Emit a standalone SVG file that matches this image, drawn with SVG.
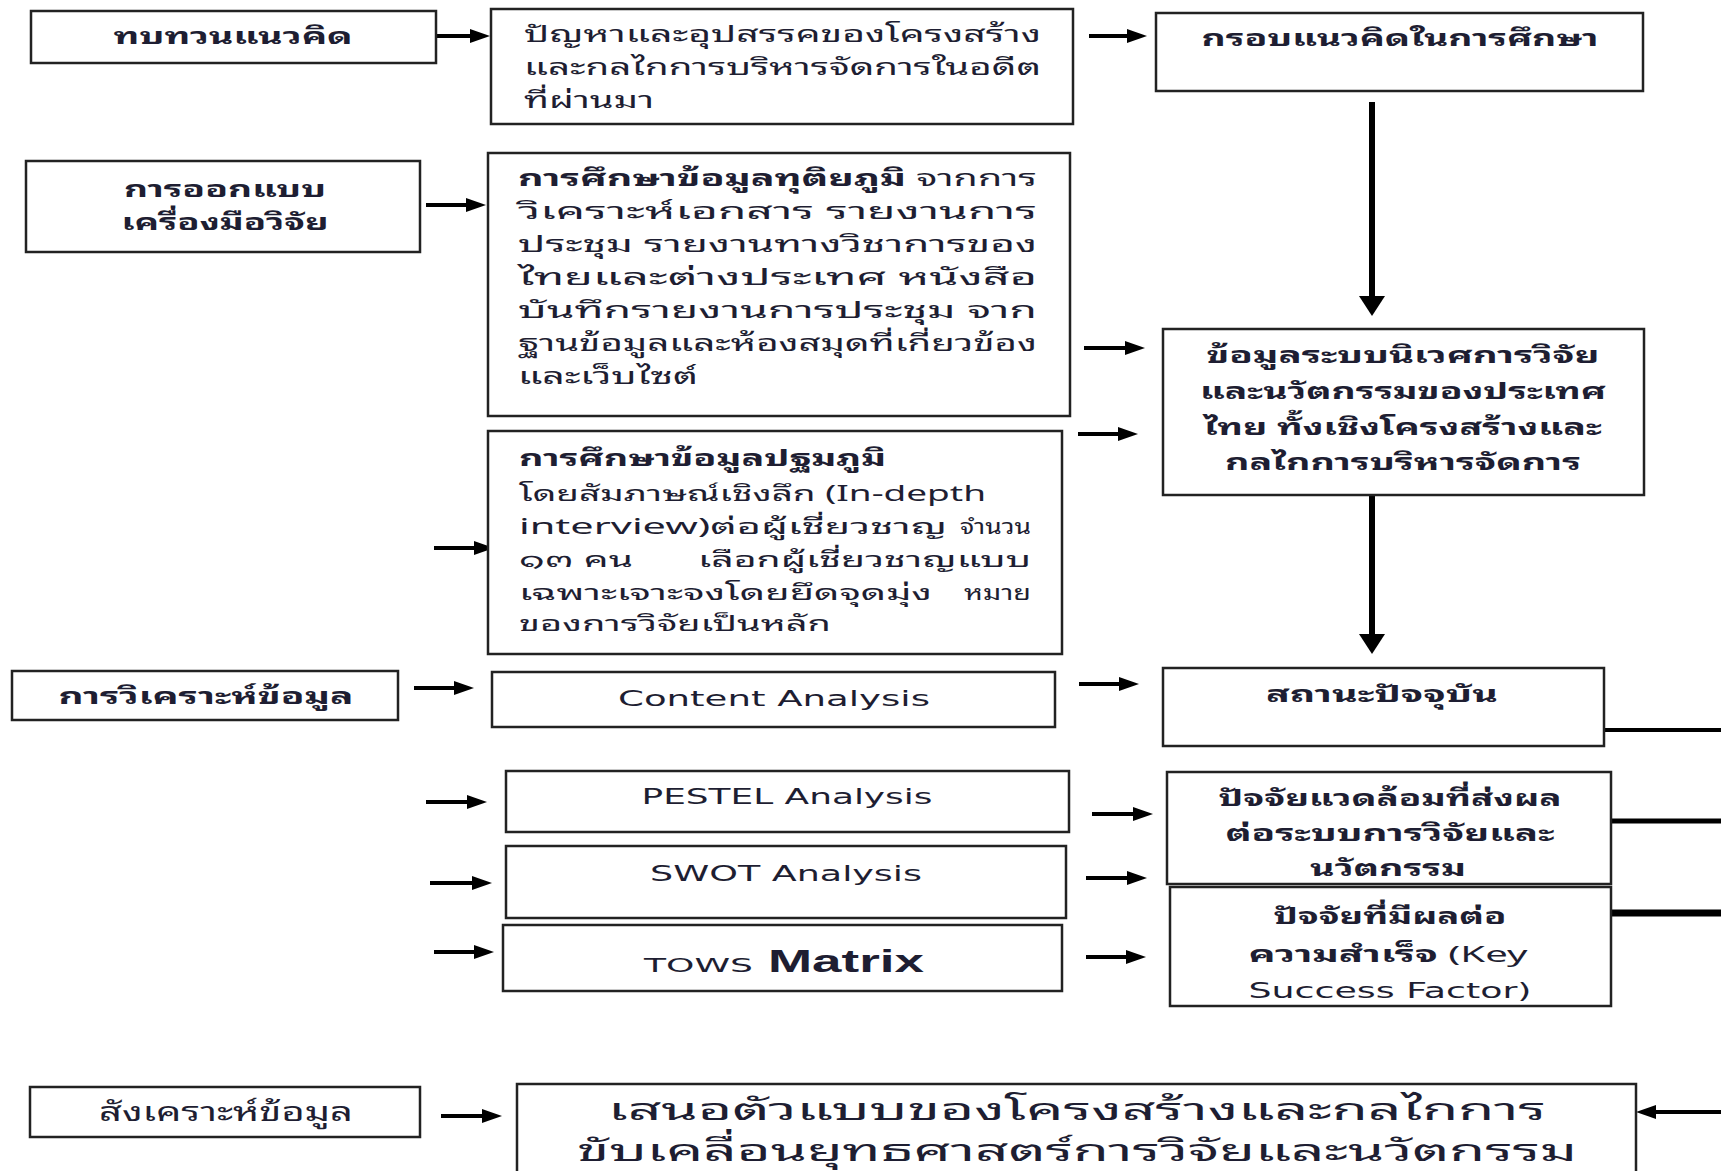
<svg xmlns="http://www.w3.org/2000/svg" width="1721" height="1171" viewBox="0 0 1721 1171">
<style>
  .bx{fill:#fff;stroke:#222;stroke-width:2.5}
  .th{font-family:Tahoma,"Noto Sans Thai Looped","Loma","Garuda","Noto Sans Thai","Noto Sans Thai UI","Noto Sans","DejaVu Sans",sans-serif;font-size:22px;fill:#1e1e32}
  .sm{font-size:21px}
  .en{font-family:"DejaVu Sans","Liberation Sans",sans-serif;font-size:22px;fill:#1e1e32}
  .b{font-weight:bold}
  .c{text-anchor:middle}
  .h{stroke:#000;stroke-width:4;fill:none;marker-end:url(#ah)}
  .v{stroke:#000;stroke-width:6;fill:none;marker-end:url(#av)}
  .ln{stroke:#000;fill:none}
</style>
<defs>
  <marker id="ah" markerUnits="userSpaceOnUse" markerWidth="20" markerHeight="14" refX="6" refY="7" orient="auto">
    <path d="M0,0 L20,7 L0,14 z" fill="#000"/>
  </marker>
  <marker id="av" markerUnits="userSpaceOnUse" markerWidth="20" markerHeight="26" refX="4" refY="13" orient="auto">
    <path d="M0,0 L20,13 L0,26 z" fill="#000"/>
  </marker>
</defs>
<rect width="1721" height="1171" fill="#fff"/>

<g id="connectors">
  <line class="h" x1="436" y1="36" x2="476" y2="36"/>
  <line class="h" x1="1089" y1="36" x2="1133" y2="36"/>
  <line class="v" x1="1372" y1="102" x2="1372" y2="300"/>
  <line class="h" x1="426" y1="205" x2="472" y2="205"/>
  <line class="h" x1="1084" y1="348" x2="1131" y2="348"/>
  <line class="h" x1="1078" y1="434" x2="1124" y2="434"/>
  <line class="h" x1="434" y1="548" x2="480" y2="548"/>
  <line class="v" x1="1372" y1="483" x2="1372" y2="638"/>
  <line class="h" x1="414" y1="688" x2="460" y2="688"/>
  <line class="h" x1="1079" y1="684" x2="1125" y2="684"/>
  <line class="h" x1="426" y1="802" x2="473" y2="802"/>
  <line class="h" x1="1092" y1="814" x2="1139" y2="814"/>
  <line class="h" x1="430" y1="883" x2="478" y2="883"/>
  <line class="h" x1="1086" y1="878" x2="1133" y2="878"/>
  <line class="h" x1="434" y1="952" x2="480" y2="952"/>
  <line class="h" x1="1086" y1="957" x2="1132" y2="957"/>
  <line class="h" x1="441" y1="1116" x2="488" y2="1116"/>
  <line class="h" x1="1721" y1="1112" x2="1650" y2="1112"/>
  <line class="ln" x1="1604" y1="730" x2="1721" y2="730" stroke-width="4"/>
  <line class="ln" x1="1611" y1="821" x2="1721" y2="821" stroke-width="5"/>
  <line class="ln" x1="1611" y1="913" x2="1721" y2="913" stroke-width="7"/>
</g>

<g id="nA">
  <rect class="bx" x="31" y="11" width="405" height="52"/>
  <text class="th b c" x="233" y="44" textLength="239" lengthAdjust="spacingAndGlyphs">ทบทวนแนวคิด</text>
</g>
<g id="nB">
  <rect class="bx" x="491" y="9" width="582" height="115"/>
  <text class="th" x="524" y="42" textLength="517" lengthAdjust="spacingAndGlyphs">ปัญหาและอุปสรรคของโครงสร้าง</text>
  <text class="th" x="524" y="75" textLength="517" lengthAdjust="spacingAndGlyphs">และกลไกการบริหารจัดการในอดีต</text>
  <text class="th" x="524" y="108" textLength="130" lengthAdjust="spacingAndGlyphs">ที่ผ่านมา</text>
</g>
<g id="nC">
  <rect class="bx" x="1156" y="13" width="487" height="78"/>
  <text class="th b c" x="1400" y="46" textLength="397" lengthAdjust="spacingAndGlyphs">กรอบแนวคิดในการศึกษา</text>
</g>
<g id="nD">
  <rect class="bx" x="26" y="161" width="394" height="91"/>
  <text class="th b c" x="225" y="197" textLength="202" lengthAdjust="spacingAndGlyphs">การออกแบบ</text>
  <text class="th b c" x="225" y="230" textLength="207" lengthAdjust="spacingAndGlyphs">เครื่องมือวิจัย</text>
</g>
<g id="nE">
  <rect class="bx" x="488" y="153" width="582" height="263"/>
  <text class="th" x="518" y="186" textLength="519" lengthAdjust="spacingAndGlyphs"><tspan class="b">การศึกษาข้อมูลทุติยภูมิ</tspan> จากการ</text>
  <text class="th" x="518" y="219" textLength="519" lengthAdjust="spacingAndGlyphs">วิเคราะห์เอกสาร รายงานการ</text>
  <text class="th" x="518" y="252" textLength="519" lengthAdjust="spacingAndGlyphs">ประชุม รายงานทางวิชาการของ</text>
  <text class="th" x="518" y="285" textLength="519" lengthAdjust="spacingAndGlyphs">ไทยและต่างประเทศ หนังสือ</text>
  <text class="th" x="518" y="318" textLength="519" lengthAdjust="spacingAndGlyphs">บันทึกรายงานการประชุม จาก</text>
  <text class="th" x="518" y="351" textLength="519" lengthAdjust="spacingAndGlyphs">ฐานข้อมูลและห้องสมุดที่เกี่ยวข้อง</text>
  <text class="th" x="518" y="384" textLength="180" lengthAdjust="spacingAndGlyphs">และเว็บไซต์</text>
</g>
<g id="nF">
  <rect class="bx" x="1163" y="329" width="481" height="166"/>
  <text class="th b c" x="1403" y="363" textLength="393" lengthAdjust="spacingAndGlyphs">ข้อมูลระบบนิเวศการวิจัย</text>
  <text class="th b c" x="1403" y="399" textLength="406" lengthAdjust="spacingAndGlyphs">และนวัตกรรมของประเทศ</text>
  <text class="th b c" x="1403" y="435" textLength="398" lengthAdjust="spacingAndGlyphs">ไทย ทั้งเชิงโครงสร้างและ</text>
  <text class="th b c" x="1403" y="470" textLength="356" lengthAdjust="spacingAndGlyphs">กลไกการบริหารจัดการ</text>
</g>
<g id="nG">
  <rect class="bx" x="488" y="431" width="574" height="223"/>
  <text class="th b" x="519" y="466" textLength="367" lengthAdjust="spacingAndGlyphs">การศึกษาข้อมูลปฐมภูมิ</text>
  <text class="th sm" x="519" y="501" textLength="467" lengthAdjust="spacingAndGlyphs">โดยสัมภาษณ์เชิงลึก (In-depth</text>
  <text class="th sm" x="519" y="534" textLength="428" lengthAdjust="spacingAndGlyphs">interview)ต่อผู้เชี่ยวชาญ</text>
  <text class="th sm" x="1031" y="534" text-anchor="end" textLength="71" lengthAdjust="spacingAndGlyphs">จำนวน</text>
  <text class="th sm" x="519" y="567" textLength="114" lengthAdjust="spacingAndGlyphs">๑๓ คน</text>
  <text class="th sm" x="1031" y="567" text-anchor="end" textLength="333" lengthAdjust="spacingAndGlyphs">เลือกผู้เชี่ยวชาญแบบ</text>
  <text class="th sm" x="519" y="600" textLength="413" lengthAdjust="spacingAndGlyphs">เฉพาะเจาะจงโดยยึดจุดมุ่ง</text>
  <text class="th sm" x="1031" y="600" text-anchor="end" textLength="67" lengthAdjust="spacingAndGlyphs">หมาย</text>
  <text class="th sm" x="519" y="631" textLength="312" lengthAdjust="spacingAndGlyphs">ของการวิจัยเป็นหลัก</text>
</g>
<g id="nH">
  <rect class="bx" x="1163" y="668" width="441" height="78"/>
  <text class="th b c" x="1382" y="702" textLength="232" lengthAdjust="spacingAndGlyphs">สถานะปัจจุบัน</text>
</g>
<g id="nI">
  <rect class="bx" x="12" y="671" width="386" height="49"/>
  <text class="th b c" x="206" y="704" textLength="295" lengthAdjust="spacingAndGlyphs">การวิเคราะห์ข้อมูล</text>
</g>
<g id="nJ">
  <rect class="bx" x="492" y="672" width="563" height="55"/>
  <text class="en c" x="774" y="706" textLength="312" lengthAdjust="spacingAndGlyphs">Content Analysis</text>
</g>
<g id="nK">
  <rect class="bx" x="506" y="771" width="563" height="61"/>
  <text class="en c" x="787" y="804" textLength="291" lengthAdjust="spacingAndGlyphs">PESTEL Analysis</text>
</g>
<g id="nL">
  <rect class="bx" x="1167" y="772" width="444" height="112"/>
  <text class="th b c" x="1390" y="806" textLength="343" lengthAdjust="spacingAndGlyphs">ปัจจัยแวดล้อมที่ส่งผล</text>
  <text class="th b c" x="1390" y="841" textLength="329" lengthAdjust="spacingAndGlyphs">ต่อระบบการวิจัยและ</text>
  <text class="th b c" x="1388" y="876" textLength="156" lengthAdjust="spacingAndGlyphs">นวัตกรรม</text>
</g>
<g id="nM">
  <rect class="bx" x="506" y="846" width="560" height="72"/>
  <text class="en c" x="786" y="881" textLength="272" lengthAdjust="spacingAndGlyphs">SWOT Analysis</text>
</g>
<g id="nN">
  <rect class="bx" x="503" y="925" width="559" height="66"/>
  <text x="644" y="972" style="font-family:'DejaVu Sans','Liberation Sans',sans-serif;fill:#1e1e32"><tspan font-size="19" textLength="109" lengthAdjust="spacingAndGlyphs">TOWS</tspan><tspan x="768" font-size="32" font-weight="bold" style="font-family:'Liberation Sans',Arial,sans-serif" textLength="156" lengthAdjust="spacingAndGlyphs">Matrix</tspan></text>
</g>
<g id="nO">
  <rect class="bx" x="1170" y="887" width="441" height="119"/>
  <text class="th b c" x="1390" y="924" textLength="233" lengthAdjust="spacingAndGlyphs">ปัจจัยที่มีผลต่อ</text>
  <text class="th c" x="1388" y="962" textLength="279" lengthAdjust="spacingAndGlyphs"><tspan class="b">ความสำเร็จ</tspan> (Key</text>
  <text class="en c" x="1390" y="998" textLength="283" lengthAdjust="spacingAndGlyphs">Success Factor)</text>
</g>
<g id="nP">
  <rect class="bx" x="30" y="1087" width="390" height="50"/>
  <text class="th c" x="226" y="1121" style="font-size:26px" textLength="254" lengthAdjust="spacingAndGlyphs">สังเคราะห์ข้อมูล</text>
</g>
<g id="nQ">
  <rect class="bx" x="517" y="1084" width="1119" height="100"/>
  <text class="th c" x="1077" y="1120" style="font-size:30px" textLength="938" lengthAdjust="spacingAndGlyphs">เสนอตัวแบบของโครงสร้างและกลไกการ</text>
  <text class="th c" x="1077" y="1161" style="font-size:30px" textLength="1000" lengthAdjust="spacingAndGlyphs">ขับเคลื่อนยุทธศาสตร์การวิจัยและนวัตกรรม</text>
</g>
</svg>
